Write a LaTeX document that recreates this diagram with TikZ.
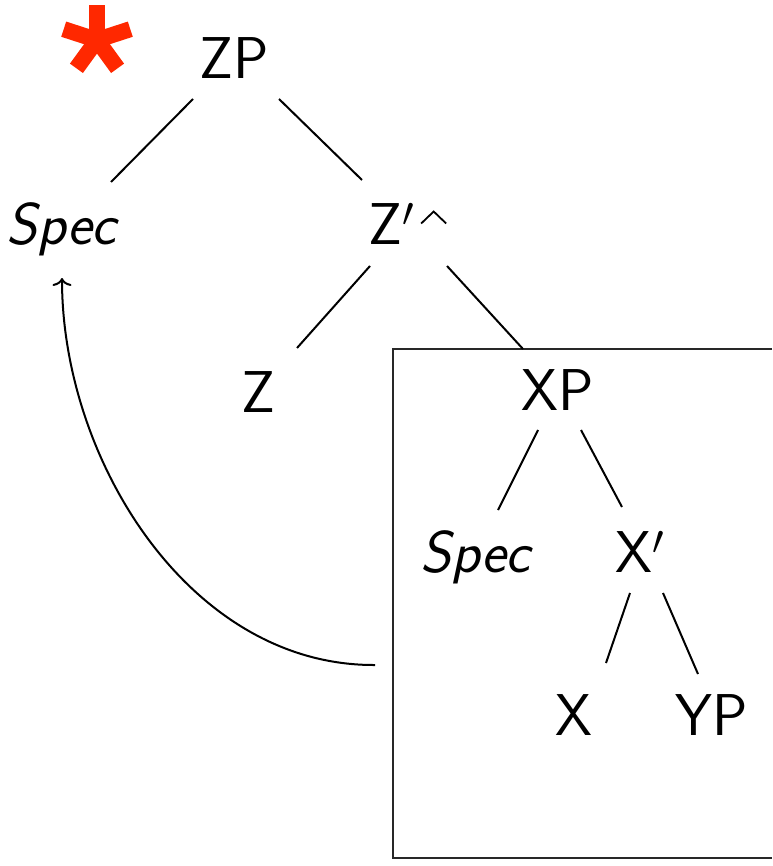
\documentclass[tikz,border=0pt]{standalone}
\usepackage{fontspec}
\usetikzlibrary{calc,arrows.meta}
\definecolor{starred}{RGB}{255,40,0}
\definecolor{boxgray}{RGB}{40,40,40}
\tikzset{
  lbl/.style={inner sep=0pt, text height=20.5pt, text depth=0pt,
    font=\fontsize{29.5}{35}\selectfont\sffamily},
  branch/.style={line width=1pt},
  boxline/.style={line width=1.3pt, draw=boxgray},
  movearrow/.style={line width=1pt, -{To[length=4pt,width=9.5pt]}},
  stararm/.style={line width=8pt, draw=starred, line cap=butt}
}
\newcommand{\wedgemark}{\tikz[baseline=0pt]\draw[line width=0.9pt,line join=miter] (0pt,10.5pt) -- (6.25pt,16.5pt) -- (12.5pt,10.5pt);}
\begin{document}
\begin{tikzpicture}[x=0.5pt,y=-0.5pt]
\useasboundingbox (0,0) rectangle (772,866);
% asterisk
\coordinate (star) at (97,40);
\foreach \a in {-90,-18,-162,54,126}{
  \draw[stararm] (star) -- ++(\a:35);
}
% nodes
\node[lbl] (ZP) at (234,58) {ZP};
\node[lbl] (Spec1) at (63,224) {\textsl{Spec}};
\node[lbl] (Zp) at (408,224) {Z$'$\kern2.5pt\wedgemark};
\node[lbl] (Z) at (258,392) {Z};
\node[lbl] (XP) at (558,390) {XP};
\node[lbl] (Spec2) at (477,552) {\textsl{Spec}};
\node[lbl] (Xp) at (640,552) {X$'$};
\node[lbl] (X) at (574,715) {X};
\node[lbl] (YP) at (712,715) {YP};
% box
\draw[boxline] (772,349) -- (393,349) -- (393,858) -- (772,858);
% branches
\draw[branch] ($(ZP)+(-41,41)$) -- ($(Spec1)+(48,-42)$);
\draw[branch] ($(ZP)+(45,41)$) -- ($(Zp)+(-46,-44)$);
\draw[branch] ($(Zp)+(-38,42)$) -- ($(Z)+(39,-44)$);
\draw[branch] ($(Zp)+(39,42)$) -- ($(XP)+(-35,-41)$);
\draw[branch] ($(XP)+(-20,40)$) -- ($(Spec2)+(21,-42)$);
\draw[branch] ($(XP)+(23,40)$) -- ($(Xp)+(-18,-45)$);
\draw[branch] ($(Xp)+(-10,41)$) -- ($(X)+(32,-52)$);
\draw[branch] ($(Xp)+(23,41)$) -- ($(YP)+(-14,-41)$);
% movement arrow
\coordinate (mvstart) at (375,665);
\draw[movearrow] (mvstart) .. controls (190,666) and (62,460) .. ($(Spec1)+(-1,54)$);
\end{tikzpicture}
\end{document}
